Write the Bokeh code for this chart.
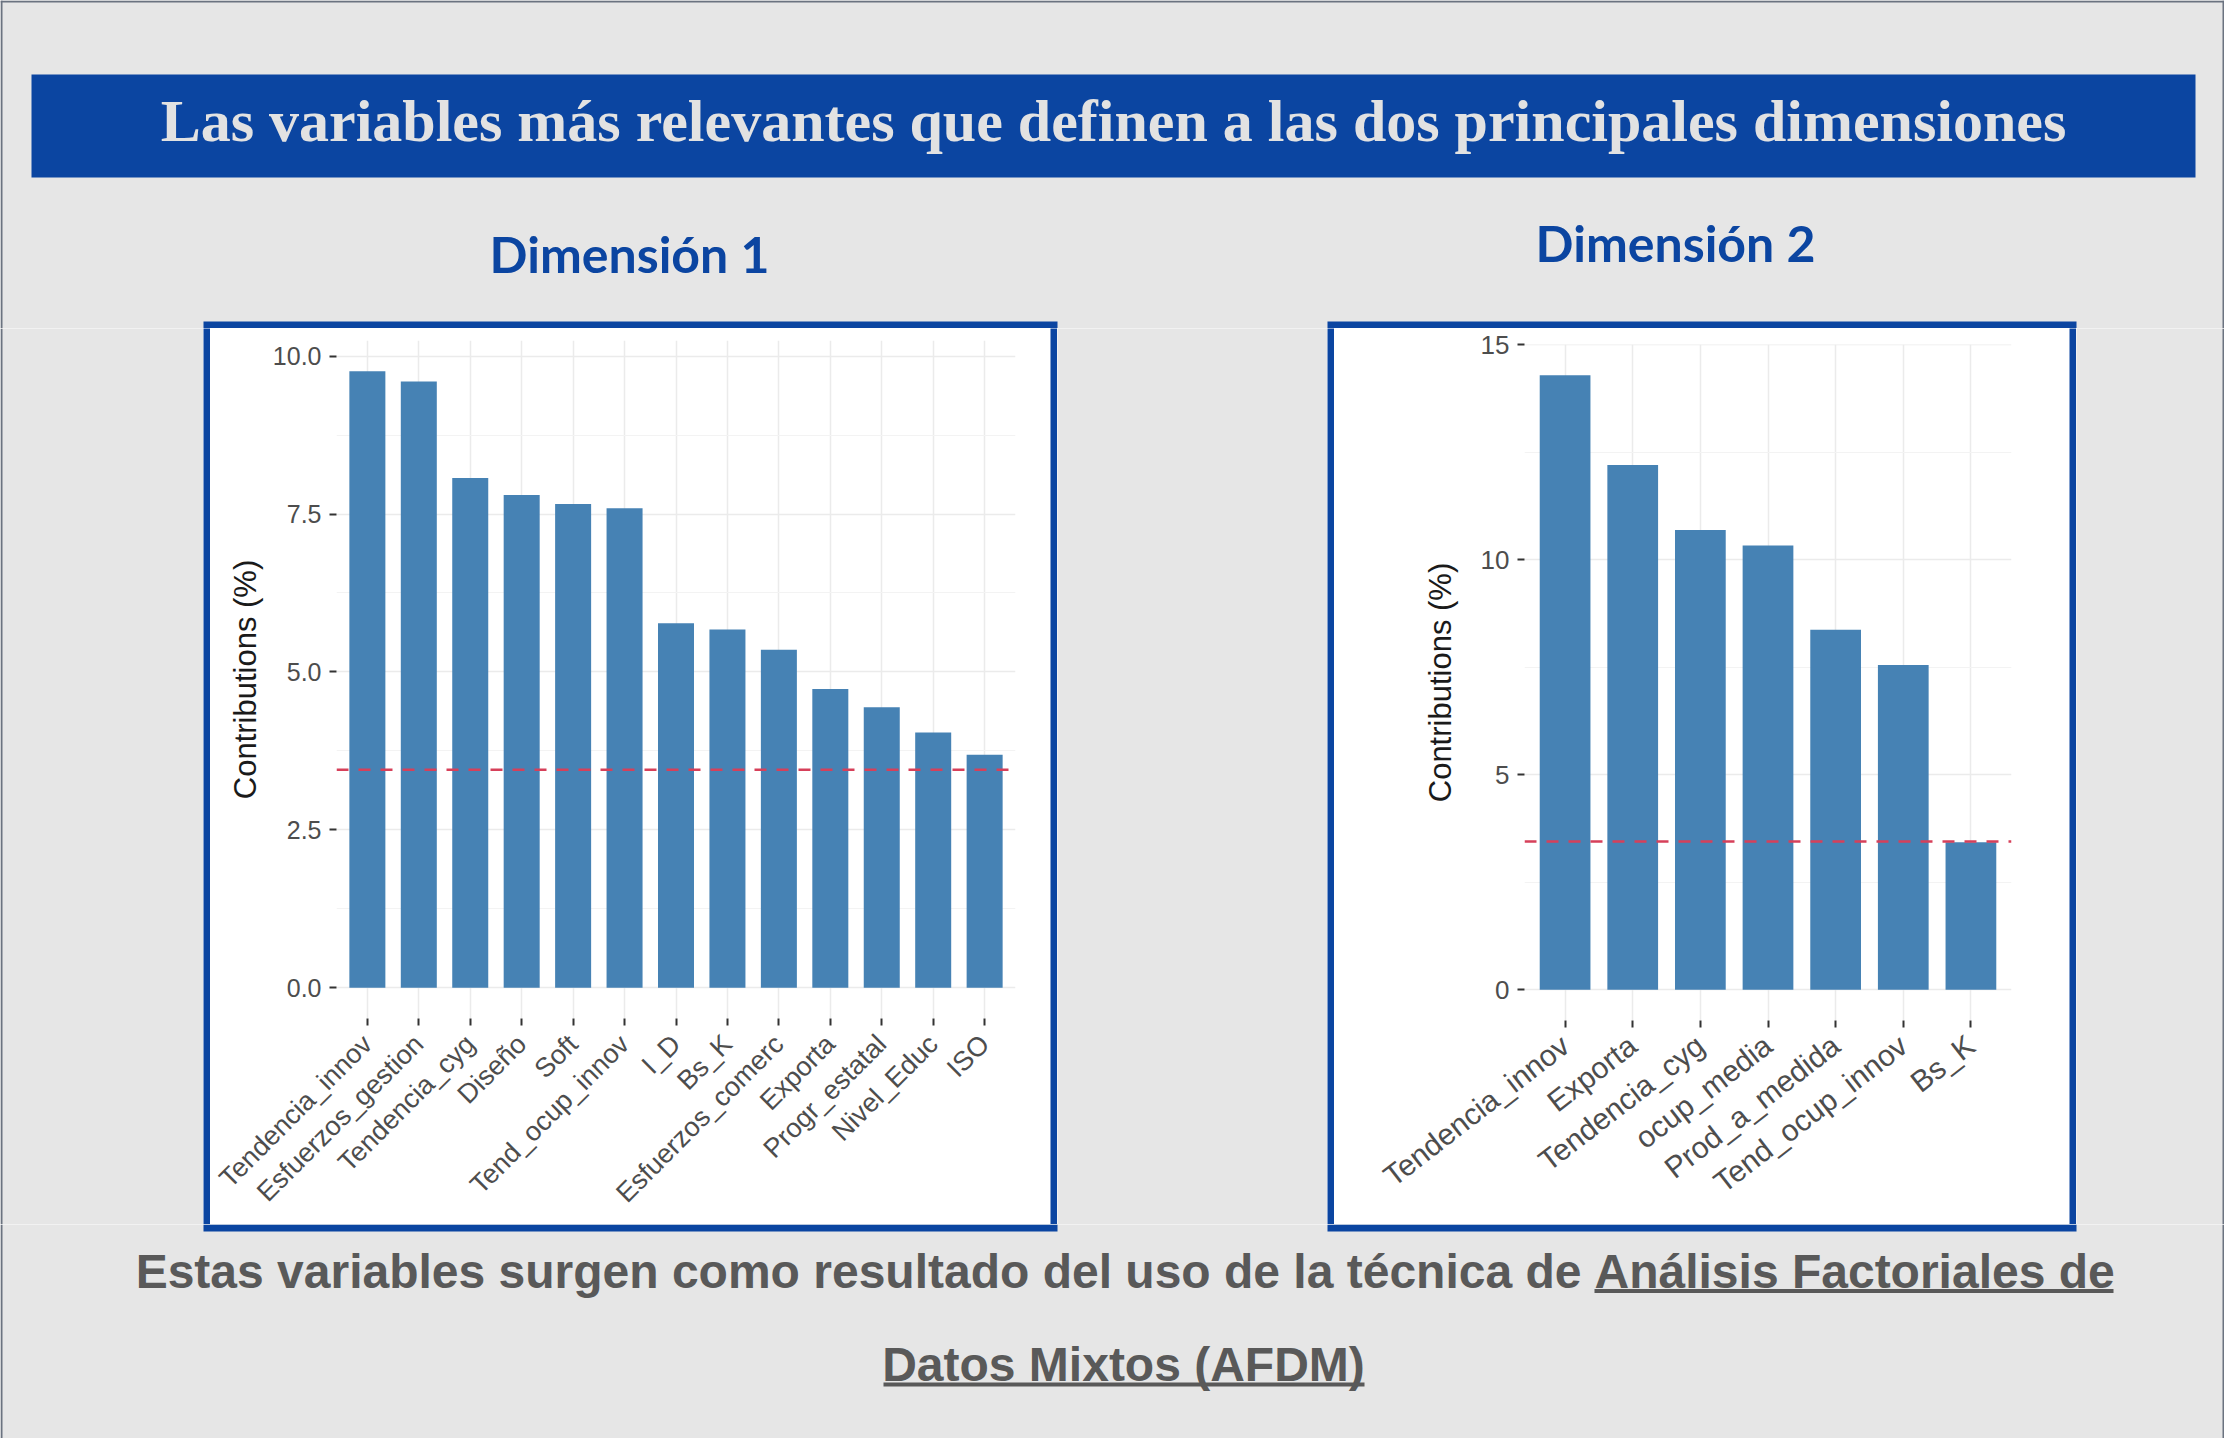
import math
from bokeh.plotting import figure
from bokeh.layouts import column, row
from bokeh.models import FactorRange, Range1d, FixedTicker, Span, NumeralTickFormatter
from bokeh.core.properties import value
from bokeh.embed import file_html
from bokeh.resources import INLINE

# ---------------- data ----------------
TITLE = "Las variables más relevantes que definen a las dos principales dimensiones"
DIM1_TITLE = "Dimensión 1"
DIM2_TITLE = "Dimensión 2"
Y_AXIS_TITLE = "Contributions (%)"
CAPTION_PLAIN = "Estas variables surgen como resultado del uso de la técnica de"
CAPTION_LINK_1 = "Análisis Factoriales de"
CAPTION_LINK_2 = "Datos Mixtos (AFDM)"

dim1_vars = ["Tendencia_innov", "Esfuerzos_gestion", "Tendencia_cyg", "Diseño", "Soft",
             "Tend_ocup_innov", "I_D", "Bs_K", "Esfuerzos_comerc", "Exporta",
             "Progr_estatal", "Nivel_Educ", "ISO"]
dim1_contrib = [9.76, 9.60, 8.07, 7.80, 7.66, 7.59, 5.77, 5.67, 5.35, 4.73, 4.44, 4.04, 3.69]

dim2_vars = ["Tendencia_innov", "Exporta", "Tendencia_cyg", "ocup_media", "Prod_a_medida",
             "Tend_ocup_innov", "Bs_K"]
dim2_contrib = [14.29, 12.20, 10.69, 10.33, 8.37, 7.55, 3.43]

expected_contrib = 3.45          # reference (dashed) line

dim1_yticks = [0, 2.5, 5, 7.5, 10]
dim1_yminor = [1.25, 3.75, 6.25, 8.75]
dim2_yticks = [0, 5, 10, 15]
dim2_yminor = [2.5, 7.5, 12.5]

# ---------------- styles ----------------
GRAY = "#E6E6E6"
BLUE = "#0B45A1"
BAR = "#4682B4"
TEXT_GRAY = "#595959"
EDGE = "#6B7380"


def no_align(p):
    if "frame_align" in p.properties():
        p.frame_align = False
    return p


def canvas(w, h, bg):
    p = figure(width=w, height=h, x_range=Range1d(0, w), y_range=Range1d(h, 0),
               x_axis_type=None, y_axis_type=None, output_backend="svg",
               toolbar_location=None, min_border=0, background_fill_color=bg,
               border_fill_color=bg, outline_line_color=None)
    p.grid.visible = False
    return no_align(p)


def contrib_chart(cats, vals, yticks, yminor, fmt, w, h, mb, bar_w, angle, fs_y, fs_x, ylab_standoff):
    vmax = max(vals)
    p = figure(x_range=FactorRange(factors=cats, range_padding=0.1, range_padding_units="absolute"),
               y_range=Range1d(-0.05 * vmax, 1.05 * vmax),
               width=w, height=h, output_backend="svg", toolbar_location=None,
               min_border_left=mb[0], min_border_right=mb[1], min_border_top=mb[2],
               min_border_bottom=mb[3], background_fill_color="white",
               border_fill_color="white", outline_line_color=None)
    no_align(p)
    p.vbar(x=cats, top=vals, width=bar_w, fill_color=BAR, line_color=None)
    p.add_layout(Span(location=expected_contrib, dimension="width", line_color="#D6405A",
                      line_dash="12 10", line_width=2.5))
    p.yaxis.ticker = FixedTicker(ticks=yticks, minor_ticks=yminor)
    p.yaxis.formatter = NumeralTickFormatter(format=fmt)
    p.yaxis.axis_label = Y_AXIS_TITLE
    p.yaxis.axis_label_text_font = "Liberation Sans"
    p.yaxis.axis_label_text_font_style = "normal"
    p.yaxis.axis_label_text_font_size = "31px"
    p.yaxis.axis_label_text_color = "#1A1A1A"
    p.yaxis.axis_label_standoff = ylab_standoff
    p.yaxis.major_label_standoff = 8
    p.yaxis.major_label_text_font_size = fs_y
    p.xaxis.major_label_text_font_size = fs_x
    p.xaxis.major_label_orientation = angle
    p.xaxis.major_label_standoff = 14
    for ax in (p.xaxis, p.yaxis):
        ax.major_label_text_font = "Liberation Sans"
        ax.major_label_text_color = "#4D4D4D"
        ax.axis_line_color = None
        ax.major_tick_line_color = "#333333"
        ax.major_tick_line_width = 2
        ax.major_tick_in = 0
        ax.major_tick_out = 7
        ax.minor_tick_line_color = None
    p.xgrid.grid_line_color = "#EBEBEB"
    p.xgrid.grid_line_width = 1.5
    p.ygrid.grid_line_color = "#EBEBEB"
    p.ygrid.grid_line_width = 1.5
    p.ygrid.minor_grid_line_color = "#F3F3F3"
    p.ygrid.minor_grid_line_width = 1
    return p


W, H_HEAD, H_MID, H_FOOT = 2224, 328, 896, 214
RING = 7

# ---------------- header (with top edges of the chart boxes) ----------------
header = canvas(W, H_HEAD, GRAY)
header.segment(x0=[1, W - 1, 0], y0=[0, 0, 1], x1=[1, W - 1, W], y1=[H_HEAD, H_HEAD, 1],
               line_color=EDGE, line_width=2)
header.quad(left=[31], right=[2195], top=[74], bottom=[177], fill_color=BLUE, line_color=None)
header.text(x=[1113], y=[120], text=[TITLE], text_font=value("Liberation Serif"),
            text_font_style="bold", text_font_size="60px", text_color="#E2E2E2",
            text_align="center", text_baseline="middle")
header.text(x=[629, 1675], y=[253, 242], text=[DIM1_TITLE, DIM2_TITLE], text_font=value("Lato"),
            text_font_style="bold", text_font_size="50px", text_color=BLUE,
            text_align="center", text_baseline="middle")
header.quad(left=[203, 1327], right=[1057, 2076], top=[H_HEAD - RING] * 2, bottom=[H_HEAD] * 2,
            fill_color=BLUE, line_color=None)

# ---------------- charts ----------------
chart1 = contrib_chart(dim1_vars, dim1_contrib, dim1_yticks, dim1_yminor, "0.0",
                       840, H_MID, (126, 35, 12, 206), 0.70, math.pi / 4, "25px", "27px", 7)
chart2 = contrib_chart(dim2_vars, dim2_contrib, dim2_yticks, dim2_yminor, "0",
                       735, H_MID, (190, 58, 16, 204), 0.75, 0.66, "26px", "30px", 20)

left_pad = canvas(203, H_MID, GRAY)
left_pad.segment(x0=[1], y0=[0], x1=[1], y1=[H_MID], line_color=EDGE, line_width=2)
right_pad = canvas(148, H_MID, GRAY)
right_pad.segment(x0=[147], y0=[0], x1=[147], y1=[H_MID], line_color=EDGE, line_width=2)
middle = row(left_pad, canvas(RING, H_MID, BLUE), chart1, canvas(RING, H_MID, BLUE),
             canvas(270, H_MID, GRAY),
             canvas(RING, H_MID, BLUE), chart2, canvas(RING, H_MID, BLUE), right_pad)

# ---------------- footer (with bottom edges of the chart boxes) ----------------
footer = canvas(W, H_FOOT, GRAY)
footer.segment(x0=[1, W - 1], y0=[0, 0], x1=[1, W - 1], y1=[H_FOOT, H_FOOT],
               line_color=EDGE, line_width=2)
footer.quad(left=[203, 1327], right=[1057, 2076], top=[0, 0], bottom=[RING, RING],
            fill_color=BLUE, line_color=None)
footer.text(x=[1581], y=[47], text=[CAPTION_PLAIN], text_font=value("Liberation Sans"),
            text_font_style="bold", text_font_size="48px", text_color=TEXT_GRAY,
            text_align="right", text_baseline="middle")
footer.text(x=[1594], y=[47], text=[CAPTION_LINK_1], text_font=value("Liberation Sans"),
            text_font_style="bold", text_font_size="48px", text_color=TEXT_GRAY,
            text_align="left", text_baseline="middle")
footer.text(x=[1123], y=[140], text=[CAPTION_LINK_2], text_font=value("Liberation Sans"),
            text_font_style="bold", text_font_size="48px", text_color=TEXT_GRAY,
            text_align="center", text_baseline="middle")
footer.segment(x0=[1594, 883], y0=[66.5, 160], x1=[2113, 1364], y1=[66.5, 160],
               line_color=TEXT_GRAY, line_width=4)

layout = column(header, middle, footer)
html = file_html(layout, INLINE)
html = html.replace("<body>", '<body style="background-color:#E6E6E6;">', 1)
open("out.html", "w").write(html)
